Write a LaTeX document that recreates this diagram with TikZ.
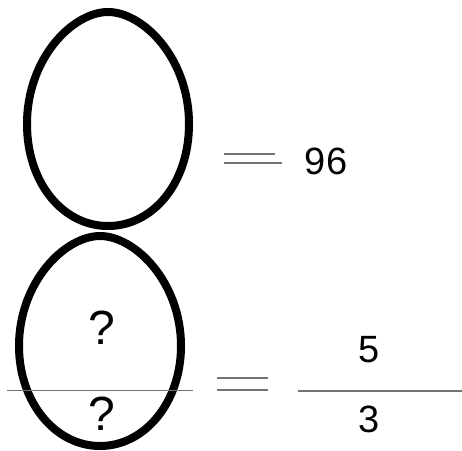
\documentclass[tikz,border=0pt]{standalone}
\usepackage{fontspec}
\setmainfont{Liberation Sans}
\begin{document}
\begin{tikzpicture}[x=1pt,y=-1pt,
  egg/.style={draw, line width=8pt},
  num/.style={font=\fontsize{38}{40}\selectfont, anchor=base, inner sep=0pt},
  ask/.style={num, font=\fontsize{48}{50}\selectfont},
  rule/.style={draw=black!55, line width=1.3pt}
]
\useasboundingbox (0,0) rectangle (462,450);
% the two eggs
\draw[egg] (108,12) .. controls (143,12) and (189,58) .. (189,124)
  .. controls (189,183) and (153,226) .. (108,226)
  .. controls (63,226) and (27,183) .. (27,124)
  .. controls (27,58) and (73,12) .. (108,12);
\draw[egg] (100,236) .. controls (135,236) and (181,282) .. (181,346)
  .. controls (181,402) and (145,446) .. (100,446)
  .. controls (55,446) and (19,402) .. (19,346)
  .. controls (19,282) and (65,236) .. (100,236);
\node[ask] (q1)  at (102,344) {?};
\node[ask] (q2)  at (102,430) {?};
\node[num] (val) at (326,174) {96};
\node[num] (nu)  at (369,362) {5};
\node[num] (de)  at (369,432) {3};
% equals signs and bars
\draw[rule] (224,154) -- (275,154);
\draw[rule] (224,163) -- (282,163);
\draw[rule] (217,378) -- (268,378);
\draw[rule] (217,390) -- (268,390);
\draw[rule, line width=1pt] (7,390) -- (193,390);
\draw[rule] (298,391) -- (462,391);
\end{tikzpicture}
\end{document}
